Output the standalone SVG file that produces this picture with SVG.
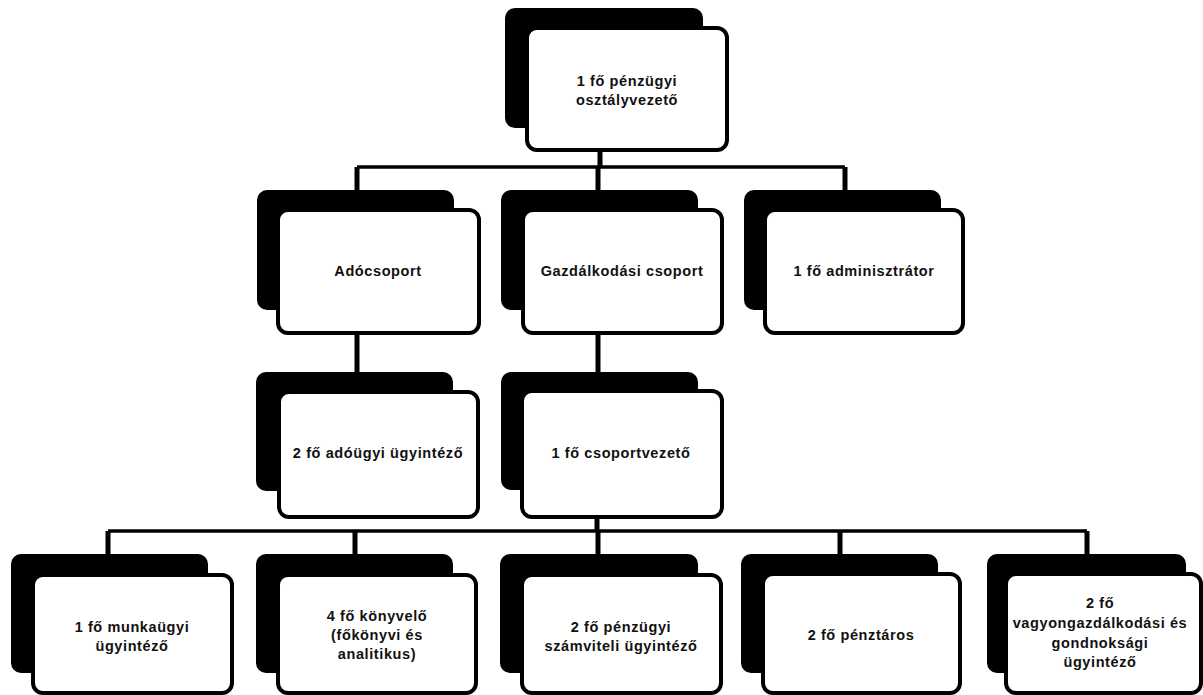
<svg xmlns="http://www.w3.org/2000/svg" width="1203" height="695" viewBox="0 0 1203 695">
<style>
.bk{fill:#000;stroke:#000;stroke-width:2}
.fr{fill:#fff;stroke:#000;stroke-width:4}
.t{font-family:"Liberation Sans",Arial,sans-serif;font-weight:bold;font-size:14.5px;fill:#111;text-anchor:middle;letter-spacing:0.6px}
.c{stroke:#000;stroke-width:3.5;fill:none}
.v{stroke:#000;stroke-width:5;fill:none}
</style>
<rect width="1203" height="695" fill="#fff"/>
<g id="connectors">
<path class="c" d="M357 167H845M108 531H1087"/>
<path class="v" d="M600 150V167M357 167V192M598 167V192M845 167V192"/>
<path class="v" d="M357 333V375M598 333V375"/>
<path class="v" d="M597 517V531M108 531V556M355 531V556M598 531V556M840 531V556M1087 531V556"/>
</g>
<g id="n-top">
<rect class="bk" x="506" y="9" width="196" height="118" rx="9"/>
<rect class="fr" x="527" y="28" width="200" height="122" rx="10"/>
<text class="t" x="627" y="86">1 fő pénzügyi</text>
<text class="t" x="627" y="105">osztályvezető</text>
</g>
<g id="n-ado">
<rect class="bk" x="258" y="191" width="195" height="118" rx="9"/>
<rect class="fr" x="278" y="210" width="201" height="123" rx="10"/>
<text class="t" x="378" y="276">Adócsoport</text>
</g>
<g id="n-gazd">
<rect class="bk" x="502" y="191" width="195" height="118" rx="9"/>
<rect class="fr" x="523" y="210" width="199" height="123" rx="10"/>
<text class="t" x="622" y="276">Gazdálkodási csoport</text>
</g>
<g id="n-admin">
<rect class="bk" x="745" y="191" width="195" height="118" rx="9"/>
<rect class="fr" x="765" y="210" width="198" height="123" rx="10"/>
<text class="t" x="864" y="276">1 fő adminisztrátor</text>
</g>
<g id="n-adougyi">
<rect class="bk" x="257" y="373" width="195" height="117" rx="9"/>
<rect class="fr" x="279" y="392" width="199" height="125" rx="10"/>
<text class="t" x="378" y="458">2 fő adóügyi ügyintéző</text>
</g>
<g id="n-csopv">
<rect class="bk" x="502" y="373" width="195" height="116" rx="9"/>
<rect class="fr" x="522" y="391" width="200" height="126" rx="10"/>
<text class="t" x="621" y="458">1 fő csoportvezető</text>
</g>
<g id="n-munka">
<rect class="bk" x="12" y="555" width="195" height="117" rx="9"/>
<rect class="fr" x="33" y="575" width="199" height="118" rx="10"/>
<text class="t" x="132" y="632">1 fő munkaügyi</text>
<text class="t" x="132" y="651">ügyintéző</text>
</g>
<g id="n-konyv">
<rect class="bk" x="257" y="555" width="195" height="117" rx="9"/>
<rect class="fr" x="278" y="575" width="198" height="118" rx="10"/>
<text class="t" x="377" y="621">4 fő könyvelő</text>
<text class="t" x="377" y="640">(főkönyvi és</text>
<text class="t" x="377" y="659">analitikus)</text>
</g>
<g id="n-penzugy">
<rect class="bk" x="501" y="555" width="196" height="117" rx="9"/>
<rect class="fr" x="522" y="575" width="199" height="118" rx="10"/>
<text class="t" x="621" y="632">2 fő pénzügyi</text>
<text class="t" x="621" y="651">számviteli ügyintéző</text>
</g>
<g id="n-penztar">
<rect class="bk" x="742" y="555" width="195" height="117" rx="9"/>
<rect class="fr" x="763" y="574" width="197" height="119" rx="10"/>
<text class="t" x="861" y="640">2 fő pénztáros</text>
</g>
<g id="n-vagyon">
<rect class="bk" x="988" y="555" width="197" height="117" rx="9"/>
<rect class="fr" x="1006" y="574" width="195" height="119" rx="10"/>
<text class="t" x="1100" y="608">2 fő</text>
<text class="t" x="1100" y="628">vagyongazdálkodási és</text>
<text class="t" x="1100" y="648">gondnoksági</text>
<text class="t" x="1100" y="667">ügyintéző</text>
</g>
</svg>
